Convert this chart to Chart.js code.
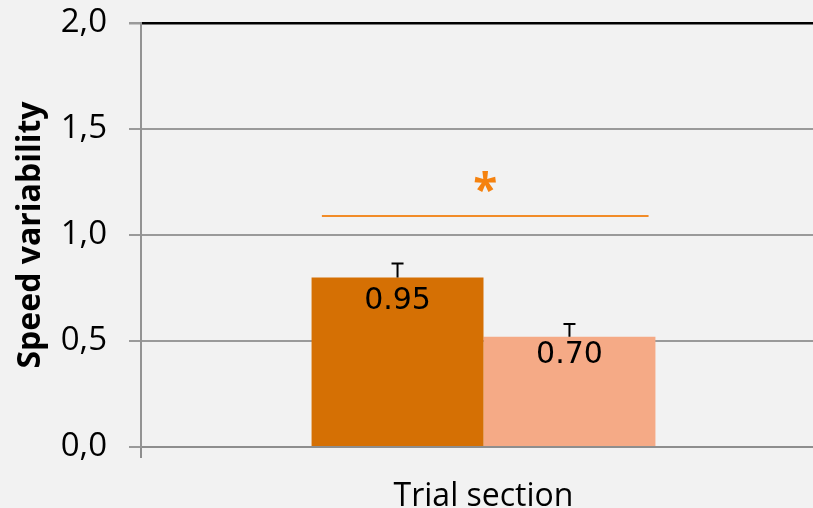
<!DOCTYPE html>
<html>
<head>
<meta charset="utf-8">
<script src="https://cdn.jsdelivr.net/npm/chart.js@4/dist/chart.umd.min.js"></script>
<style>
  html, body { margin: 0; padding: 0; background: #f2f2f2; overflow: hidden; }
  #wrap { width: 826px; height: 508px; }
</style>
</head>
<body>
<div id="wrap"><canvas id="bars"></canvas></div>
<script>
// data
var categories = [''];
var seriesNames = ['Section A', 'Section B'];
var barValues = [0.80, 0.52];
var errorValues = [0.065, 0.06];
var barLabels = ['0.95', '0.70'];
var barColors = ['#d57004', '#f5aa86'];
var sigLineValue = 1.09;
var sigMarkValue = 1.24;
var yMin = 0, yMax = 2, yStep = 0.5;

// error bars, value labels and the significance mark
var extrasPlugin = {
    id: 'extras',
    afterDatasetsDraw: function (chart) {
        var ctx = chart.ctx;
        var y = chart.scales.y;
        var bars = [];
        chart.data.datasets.forEach(function (ds, i) {
            var bar = chart.getDatasetMeta(i).data[0];
            bars.push(bar);
            var top = y.getPixelForValue(barValues[i] + errorValues[i]);
            ctx.save();
            ctx.strokeStyle = '#000';
            ctx.lineWidth = 2;
            ctx.beginPath();
            ctx.moveTo(bar.x, bar.y);
            ctx.lineTo(bar.x, top);
            ctx.moveTo(bar.x - 6, top);
            ctx.lineTo(bar.x + 6, top);
            ctx.stroke();
            // value label inside the bar
            ctx.fillStyle = '#000';
            ctx.font = '30px "DejaVu Sans"';
            ctx.textAlign = 'center';
            ctx.textBaseline = 'top';
            var offs = [9, 3];
            ctx.fillText(barLabels[i], bar.x, bar.y + offs[i]);
            ctx.restore();
        });
        var ly = y.getPixelForValue(sigLineValue);
        var x1 = bars[0].x - bars[0].width * 0.44;
        var x2 = bars[1].x + bars[1].width * 0.46;
        ctx.save();
        ctx.strokeStyle = '#f28c28';
        ctx.lineWidth = 2;
        ctx.beginPath();
        ctx.moveTo(x1, ly);
        ctx.lineTo(x2, ly);
        ctx.stroke();
        ctx.fillStyle = '#f5820f';
        ctx.font = 'bold 44px "Open Sans"';
        ctx.textAlign = 'center';
        ctx.textBaseline = 'middle';
        ctx.fillText('*', (x1 + x2) / 2, y.getPixelForValue(sigMarkValue) + 8);
        ctx.restore();
    }
};

var ctx = document.getElementById('bars').getContext('2d');
var chart = new Chart(ctx, {
    type: 'bar',
    data: {
        labels: categories,
        datasets: [
            { label: seriesNames[0], data: [barValues[0]], backgroundColor: barColors[0] },
            { label: seriesNames[1], data: [barValues[1]], backgroundColor: barColors[1] }
        ]
    },
    options: {
        responsive: true,
        maintainAspectRatio: false,
        animation: false,
        layout: { padding: { top: 23, right: 0, left: 0, bottom: 0 } },
        datasets: {
            bar: { categoryPercentage: 0.502, barPercentage: 1.0 }
        },
        plugins: {
            legend: { display: false },
            tooltip: { enabled: false }
        },
        scales: {
            x: {
                grid: { display: true, drawOnChartArea: false, tickLength: 11, color: '#8e8e8e', lineWidth: 2 },
                border: { color: '#8e8e8e', width: 2 },
                ticks: { display: false },
                title: {
                    display: true,
                    text: 'Trial section',
                    color: '#000',
                    font: { family: 'Open Sans', size: 32 },
                    padding: { top: 14, bottom: -8 }
                },
                afterFit: function (scale) { scale.height = 61; }
            },
            y: {
                min: yMin,
                max: yMax,
                ticks: {
                    stepSize: yStep,
                    color: '#000',
                    padding: 22,
                    font: { family: 'Open Sans', size: 33 },
                    callback: function (v) { return v.toFixed(1).replace('.', ','); }
                },
                grid: {
                    color: function (c) { return c.tick && c.tick.value === yMax ? '#000' : '#9a9a9a'; },
                    lineWidth: function (c) { return c.tick && c.tick.value === yMax ? 2.5 : 2; },
                    tickColor: '#9a9a9a',
                    tickLength: 12
                },
                border: { color: '#939393', width: 2 },
                title: {
                    display: true,
                    text: 'Speed variability',
                    color: '#000',
                    font: { family: 'Open Sans', size: 32, weight: 'bold' },
                    padding: { top: 12, bottom: 0 }
                },
                afterFit: function (scale) {
                    scale.width = 141;
                    scale.paddingTop = 0;
                }
            }
        }
    },
    plugins: [extrasPlugin]
});
</script>
</body>
</html>
